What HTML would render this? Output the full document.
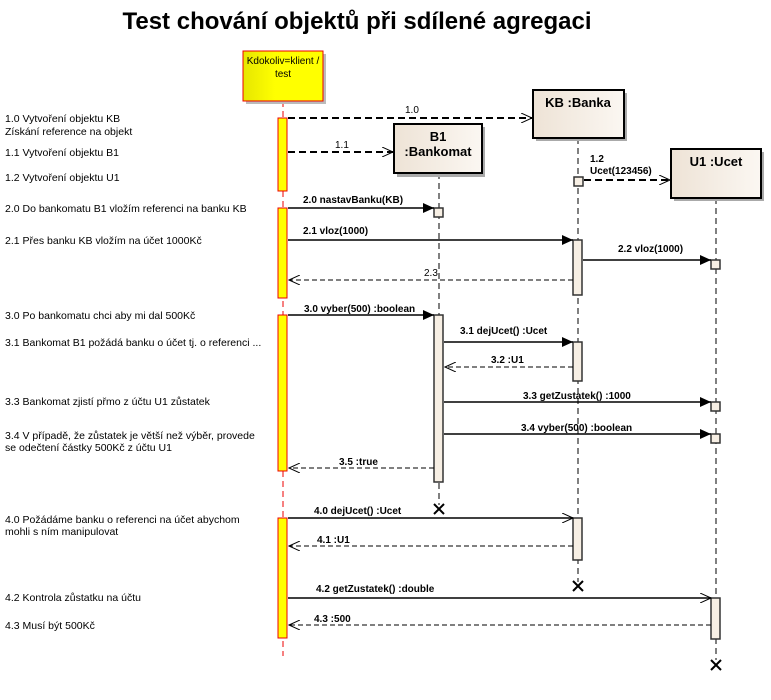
<!DOCTYPE html>
<html><head><meta charset="utf-8"><style>body{margin:0;background:#fff}svg{display:block}</style></head><body>
<svg width="771" height="700" viewBox="0 0 771 700" xmlns="http://www.w3.org/2000/svg" font-family="Liberation Sans, Arial, sans-serif">
<defs>
<linearGradient id="g" x1="0" x2="1"><stop offset="0" stop-color="#eee3d6"/><stop offset="1" stop-color="#fbf7f2"/></linearGradient>
<linearGradient id="y" x1="0" x2="1"><stop offset="0" stop-color="#e6e600"/><stop offset="0.4" stop-color="#ffff00"/></linearGradient>
<marker id="f" markerWidth="12" markerHeight="10" refX="11" refY="5" orient="auto" markerUnits="userSpaceOnUse"><path d="M0,0 L11,5 L0,10 z" fill="#000"/></marker>
<marker id="o" markerWidth="12" markerHeight="10" refX="11" refY="5" orient="auto" markerUnits="userSpaceOnUse"><path d="M0,0 L11,5 L0,10" fill="none" stroke="#000" stroke-width="1"/></marker>
</defs>
<text x="357" y="29" text-anchor="middle" font-size="24" font-weight="bold">Test chování objektů při sdílené agregaci</text>

<!-- lifelines -->
<g stroke-dasharray="6,4" stroke-width="1">
<line x1="283" y1="101" x2="283" y2="656" stroke="#e00"/>
<line x1="439" y1="173" x2="439" y2="505" stroke="#000"/>
<line x1="578" y1="138" x2="578" y2="582" stroke="#000"/>
<line x1="716" y1="198" x2="716" y2="660" stroke="#000"/>
</g>

<!-- heads -->
<rect x="246" y="54" width="80" height="50" fill="#bbb"/>
<rect x="243" y="51" width="80" height="50" fill="url(#y)" stroke="#e00"/>
<text x="283" y="64" text-anchor="middle" font-size="10">Kdokoliv=klient /</text>
<text x="283" y="77" text-anchor="middle" font-size="10">test</text>

<rect x="397" y="127" width="88" height="50" fill="#aaa"/>
<rect x="394" y="124" width="88" height="49" fill="url(#g)" stroke="#000" stroke-width="2"/>
<text x="438" y="141" text-anchor="middle" font-size="13" font-weight="bold">B1</text>
<text x="438" y="156" text-anchor="middle" font-size="13" font-weight="bold">:Bankomat</text>

<rect x="536" y="93" width="91" height="48" fill="#aaa"/>
<rect x="533" y="90" width="91" height="48" fill="url(#g)" stroke="#000" stroke-width="2"/>
<text x="578" y="107" text-anchor="middle" font-size="13" font-weight="bold">KB :Banka</text>

<rect x="674" y="152" width="90" height="49" fill="#aaa"/>
<rect x="671" y="149" width="90" height="49" fill="url(#g)" stroke="#000" stroke-width="2"/>
<text x="716" y="166" text-anchor="middle" font-size="13" font-weight="bold">U1 :Ucet</text>

<!-- client activations -->
<g fill="#ffff00" stroke="#e00">
<rect x="278" y="118" width="9" height="73"/>
<rect x="278" y="208" width="9" height="90"/>
<rect x="278" y="315" width="9" height="156"/>
<rect x="278" y="518" width="9" height="120"/>
</g>
<!-- other activations -->
<g fill="#f7efe4" stroke="#333" stroke-width="1.5">
<rect x="434" y="208" width="9" height="9"/>
<rect x="574" y="177" width="9" height="9"/>
<rect x="573" y="240" width="9" height="55"/>
<rect x="711" y="260" width="9" height="9"/>
<rect x="434" y="315" width="9" height="167"/>
<rect x="573" y="342" width="9" height="39"/>
<rect x="711" y="402" width="9" height="9"/>
<rect x="711" y="434" width="9" height="9"/>
<rect x="573" y="518" width="9" height="42"/>
<rect x="711" y="598" width="9" height="41"/>
</g>

<!-- messages -->
<g stroke="#000" fill="none">
<line x1="288" y1="118" x2="532" y2="118" stroke-width="2" stroke-dasharray="7,4" marker-end="url(#o)"/>
<line x1="288" y1="152" x2="393" y2="152" stroke-width="2" stroke-dasharray="7,4" marker-end="url(#o)"/>
<line x1="584" y1="180" x2="670" y2="180" stroke-width="2" stroke-dasharray="7,4" marker-end="url(#o)"/>
<line x1="288" y1="208" x2="434" y2="208" stroke-width="1.5" marker-end="url(#f)"/>
<line x1="288" y1="240" x2="573" y2="240" stroke-width="1.5" marker-end="url(#f)"/>
<line x1="583" y1="260" x2="711" y2="260" stroke-width="1.5" marker-end="url(#f)"/>
<line x1="573" y1="280" x2="289" y2="280" stroke-dasharray="5,3" marker-end="url(#o)"/>
<line x1="288" y1="315" x2="434" y2="315" stroke-width="1.5" marker-end="url(#f)"/>
<line x1="444" y1="342" x2="573" y2="342" stroke-width="1.5" marker-end="url(#f)"/>
<line x1="573" y1="367" x2="445" y2="367" stroke-dasharray="5,3" marker-end="url(#o)"/>
<line x1="444" y1="402" x2="711" y2="402" stroke-width="1.5" marker-end="url(#f)"/>
<line x1="444" y1="434" x2="711" y2="434" stroke-width="1.5" marker-end="url(#f)"/>
<line x1="434" y1="468" x2="289" y2="468" stroke-dasharray="5,3" marker-end="url(#o)"/>
<line x1="288" y1="518" x2="573" y2="518" stroke-width="1.5" marker-end="url(#o)"/>
<line x1="573" y1="546" x2="289" y2="546" stroke-dasharray="5,3" marker-end="url(#o)"/>
<line x1="288" y1="598" x2="711" y2="598" stroke-width="1.5" marker-end="url(#o)"/>
<line x1="711" y1="625" x2="289" y2="625" stroke-dasharray="5,3" marker-end="url(#o)"/>
</g>
<!-- destroy X -->
<g stroke="#000" stroke-width="2">
<path d="M434,504 l10,10 M444,504 l-10,10"/>
<path d="M573,581 l10,10 M583,581 l-10,10"/>
<path d="M711,660 l10,10 M721,660 l-10,10"/>
</g>

<!-- message labels -->
<g font-size="10" fill="#000">
<text x="405" y="113">1.0</text>
<text x="335" y="148">1.1</text>
<text x="590" y="162" font-weight="bold">1.2</text>
<text x="590" y="174" font-weight="bold">Ucet(123456)</text>
<text x="303" y="203" font-weight="bold">2.0 nastavBanku(KB)</text>
<text x="303" y="234" font-weight="bold">2.1 vloz(1000)</text>
<text x="618" y="252" font-weight="bold">2.2 vloz(1000)</text>
<text x="424" y="276">2.3</text>
<text x="304" y="312" font-weight="bold">3.0 vyber(500) :boolean</text>
<text x="460" y="334" font-weight="bold">3.1 dejUcet() :Ucet</text>
<text x="491" y="363" font-weight="bold">3.2  :U1</text>
<text x="523" y="399" font-weight="bold">3.3 getZustatek() :1000</text>
<text x="521" y="431" font-weight="bold">3.4 vyber(500) :boolean</text>
<text x="339" y="465" font-weight="bold">3.5  :true</text>
<text x="314" y="514" font-weight="bold">4.0 dejUcet() :Ucet</text>
<text x="317" y="543" font-weight="bold">4.1  :U1</text>
<text x="316" y="592" font-weight="bold">4.2 getZustatek() :double</text>
<text x="314" y="622" font-weight="bold">4.3  :500</text>
</g>

<!-- left notes -->
<g font-size="10.5" fill="#000">
<text x="5" y="122">1.0 Vytvoření objektu KB</text>
<text x="5" y="135">Získání reference na objekt</text>
<text x="5" y="156">1.1 Vytvoření objektu B1</text>
<text x="5" y="181">1.2 Vytvoření objektu U1</text>
<text x="5" y="212">2.0 Do bankomatu B1 vložím referenci na banku KB</text>
<text x="5" y="244">2.1 Přes banku KB vložím na účet 1000Kč</text>
<text x="5" y="319">3.0 Po bankomatu chci aby mi dal 500Kč</text>
<text x="5" y="346">3.1 Bankomat B1 požádá banku o účet tj. o referenci ...</text>
<text x="5" y="405">3.3 Bankomat zjistí přmo z účtu U1 zůstatek</text>
<text x="5" y="439">3.4 V případě, že zůstatek je větší než výběr, provede</text>
<text x="5" y="451">se odečtení částky 500Kč z účtu U1</text>
<text x="5" y="523">4.0 Požádáme banku o referenci na účet abychom</text>
<text x="5" y="535">mohli s ním manipulovat</text>
<text x="5" y="601">4.2 Kontrola zůstatku na účtu</text>
<text x="5" y="629">4.3 Musí být 500Kč</text>
</g>
</svg>
</body></html>
